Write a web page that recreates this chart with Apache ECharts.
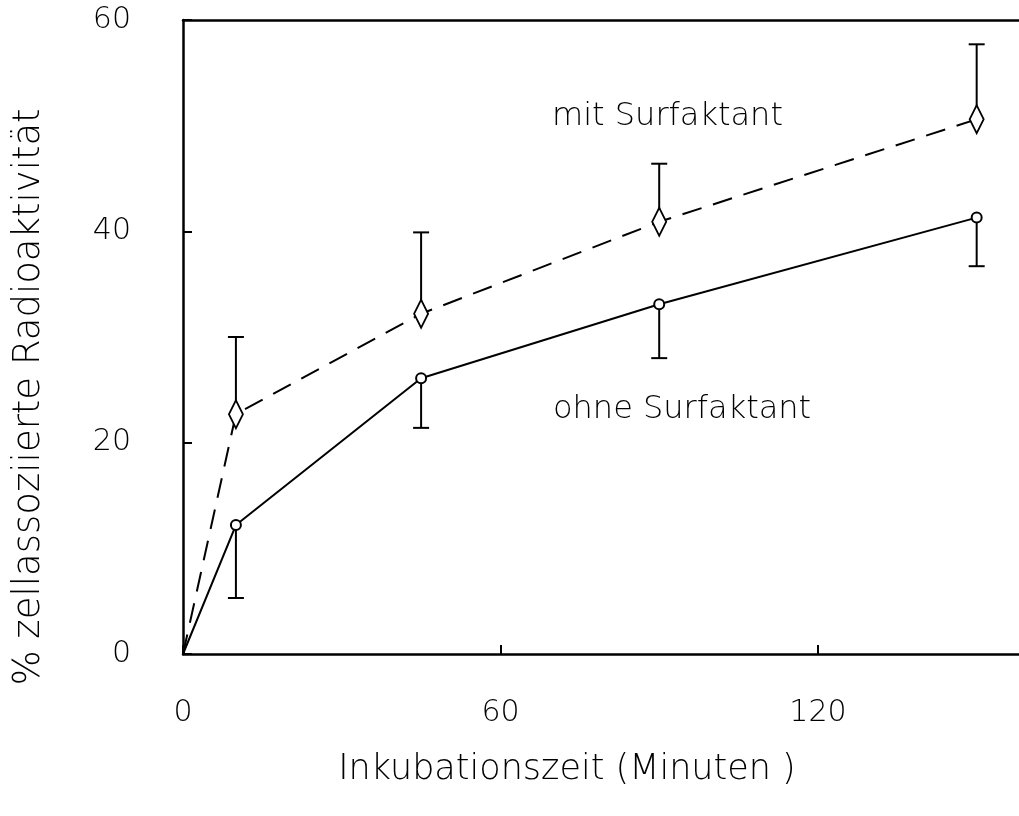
<!DOCTYPE html>
<html>
<head>
<meta charset="utf-8">
<script src="https://cdn.jsdelivr.net/npm/echarts@6/dist/echarts.min.js"></script>
<style>
html,body{margin:0;padding:0;background:#fff;}
#chart{width:1019px;height:816px;}
</style>
</head>
<body>
<div id="chart"></div>
<script>
var timeMin = [0, 10, 45, 90, 150];
var mitSurf = [0, 22.7, 32.2, 40.9, 50.6];
var mitUpper = [null, 30.0, 39.9, 46.4, 57.7];
var ohneSurf = [0, 12.2, 26.1, 33.1, 41.3];
var ohneLower = [null, 5.3, 21.4, 28.0, 36.7];
var xTicks = [0, 60, 120];
var yTicks = [0, 20, 40, 60];
var labelMit = 'mit Surfaktant';
var labelOhne = 'ohne Surfaktant';
var xTitle = 'Inkubationszeit (Minuten )';
var yTitle = '% zellassoziierte Radioaktivität';

var FONT = 'DejaVu Sans';
var chart = echarts.init(document.getElementById('chart'), null, {renderer: 'canvas'});

function lineData(vals) {
  return timeMin.map(function (t, i) {
    var d = {value: [t, vals[i]]};
    if (i === 0) { d.symbol = 'none'; }
    return d;
  });
}
function errData(vals, ends) {
  var out = [];
  timeMin.forEach(function (t, i) {
    if (ends[i] !== null) out.push([t, vals[i], ends[i]]);
  });
  return out;
}
function errRender(params, api) {
  var x = api.value(0);
  var p1 = api.coord([x, api.value(1)]);
  var p2 = api.coord([x, api.value(2)]);
  var cap = 8;
  var st = {stroke: '#000', lineWidth: 2};
  return {
    type: 'group',
    children: [
      {type: 'line', shape: {x1: p1[0], y1: p1[1], x2: p2[0], y2: p2[1]}, style: st},
      {type: 'line', shape: {x1: p2[0] - cap, y1: p2[1], x2: p2[0] + cap, y2: p2[1]}, style: st}
    ]
  };
}

var option = {
  backgroundColor: '#fff',
  animation: false,
  grid: {left: 183, top: 20, bottom: 162, right: 0, show: false},
  xAxis: [{
    type: 'value', min: 0, max: 158, interval: 60,
    axisLine: {show: true, lineStyle: {color: '#000', width: 2.5}},
    axisTick: {show: true, inside: true, length: 9, lineStyle: {color: '#000', width: 2}, customValues: xTicks},
    axisLabel: {color: '#000', fontSize: 30, fontFamily: FONT, fontWeight: 'lighter', margin: 44, customValues: xTicks},
    splitLine: {show: false}
  }, {
    type: 'value', position: 'top', min: 0, max: 158,
    axisLine: {show: true, lineStyle: {color: '#000', width: 2.5}},
    axisTick: {show: false}, axisLabel: {show: false}, splitLine: {show: false}
  }],
  yAxis: {
    type: 'value', min: 0, max: 60, interval: 20,
    axisLine: {show: true, lineStyle: {color: '#000', width: 2.5}},
    axisTick: {show: true, inside: true, length: 9, lineStyle: {color: '#000', width: 2}},
    axisLabel: {color: '#000', fontSize: 30, fontFamily: FONT, fontWeight: 'lighter', margin: 52, customValues: yTicks},
    splitLine: {show: false}
  },
  series: [
    {
      name: labelMit, type: 'line', data: lineData(mitSurf),
      symbol: 'diamond', symbolSize: [14, 28], showAllSymbol: true,
      lineStyle: {color: '#000', width: 2, type: [20, 12]},
      itemStyle: {color: '#fff', borderColor: '#000', borderWidth: 2},
      z: 3
    },
    {
      name: labelOhne, type: 'line', data: lineData(ohneSurf),
      symbol: 'circle', symbolSize: 10, showAllSymbol: true,
      lineStyle: {color: '#000', width: 2},
      itemStyle: {color: '#fff', borderColor: '#000', borderWidth: 2},
      z: 3
    },
    {type: 'custom', data: errData(mitSurf, mitUpper), renderItem: errRender, z: 2},
    {type: 'custom', data: errData(ohneSurf, ohneLower), renderItem: errRender, z: 2}
  ],
  graphic: [
    {type: 'text', x: 552, y: 117, style: {text: labelMit, fontSize: 32, fontFamily: FONT, fontWeight: 'lighter', fill: '#000', textAlign: 'left', textVerticalAlign: 'middle'}},
    {type: 'text', x: 553, y: 410, style: {text: labelOhne, fontSize: 32, fontFamily: FONT, fontWeight: 'lighter', fill: '#000', textAlign: 'left', textVerticalAlign: 'middle'}},
    {type: 'text', x: 567, y: 770, style: {text: xTitle, fontSize: 35, fontFamily: FONT, fontWeight: 'lighter', fill: '#000', textAlign: 'center', textVerticalAlign: 'middle'}},
    {type: 'text', x: 29, y: 397, rotation: Math.PI / 2, style: {text: yTitle, fontSize: 37, fontFamily: FONT, fontWeight: 'lighter', fill: '#000', textAlign: 'center', textVerticalAlign: 'middle'}}
  ]
};
chart.setOption(option);
</script>
</body>
</html>
